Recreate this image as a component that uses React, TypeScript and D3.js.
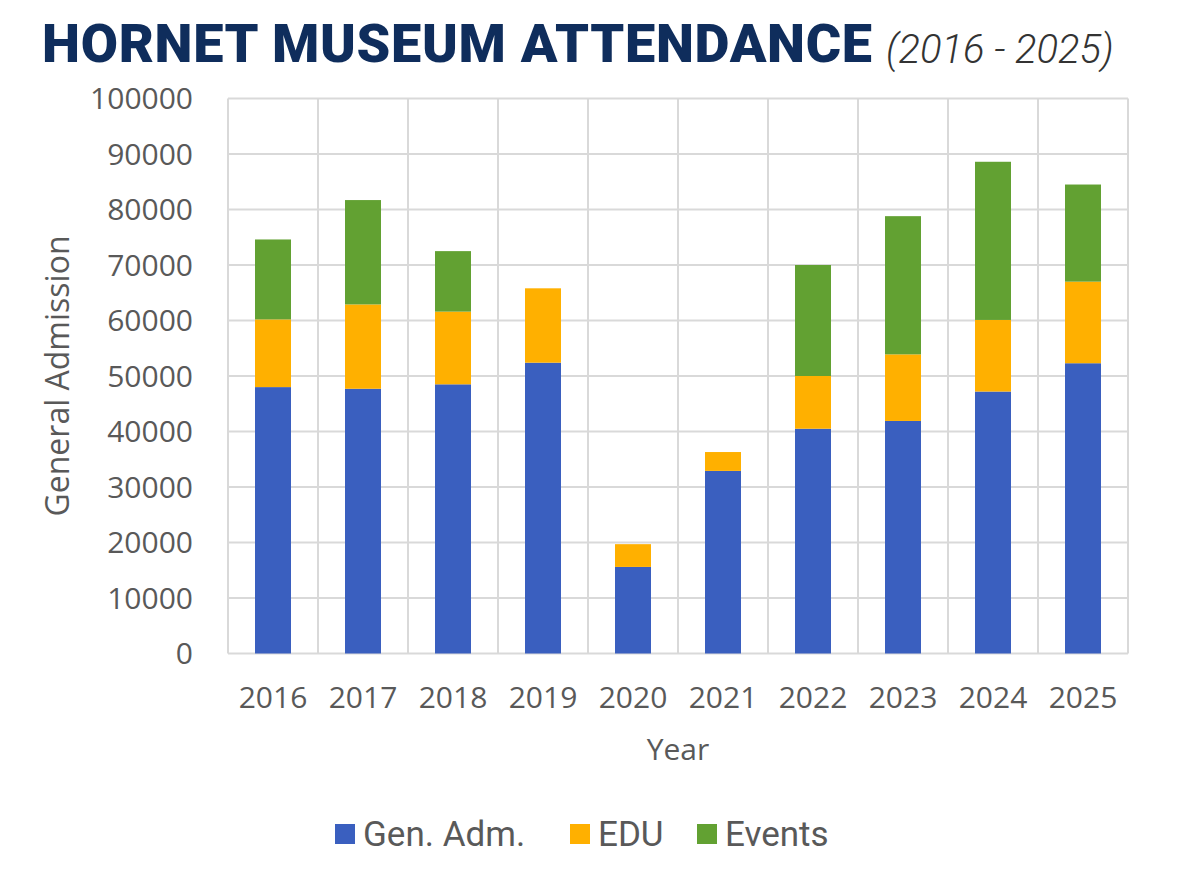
import React from "react";
import * as d3 from "d3";

const years = ["2016", "2017", "2018", "2019", "2020", "2021", "2022", "2023", "2024", "2025"];
const genAdm = [48000, 47700, 48500, 52400, 15600, 32900, 40500, 41900, 47200, 52300];
const edu = [12200, 15200, 13100, 13400, 4100, 3400, 9500, 12000, 12900, 14700];
const events = [14400, 18800, 10900, 0, 0, 0, 20000, 24900, 28500, 17500];
const yTicks = [0, 10000, 20000, 30000, 40000, 50000, 60000, 70000, 80000, 90000, 100000];

const seriesNames = ["Gen. Adm.", "EDU", "Events"];
const seriesColors = ["#3a5fbf", "#ffb000", "#62a132"];

const W = 1200;
const H = 875;
const margin = { top: 98.5, right: 72, bottom: 221.5, left: 228 };

const font = "'Open Sans', 'Noto Sans', sans-serif";

export default function App() {
  const rows = years.map((year, i) => ({
    year,
    gen: genAdm[i],
    edu: edu[i],
    events: events[i],
  }));

  const stack = d3.stack<any>().keys(["gen", "edu", "events"]);
  const layers = stack(rows);

  const x = d3
    .scaleBand()
    .domain(years)
    .range([margin.left, W - margin.right])
    .paddingInner(0.6)
    .paddingOuter(0.3);

  const cat = d3.scaleBand().domain(years).range([margin.left, W - margin.right]);

  const y = d3
    .scaleLinear()
    .domain([0, 100000])
    .range([H - margin.bottom, margin.top]);

  const legendItems = [
    { name: seriesNames[0], color: seriesColors[0], x: 335 },
    { name: seriesNames[1], color: seriesColors[1], x: 570 },
    { name: seriesNames[2], color: seriesColors[2], x: 697 },
  ];

  return (
    <svg
      width={W}
      height={H}
      style={{ position: "absolute", left: 0, top: 0, background: "#fff" }}
    >
      {/* title */}
      <text
        x={42}
        y={62}
        fontFamily="Roboto, sans-serif"
        fontWeight={900}
        fontSize={54}
        letterSpacing={0.7}
        fill="#0f2d5c"
      >
        HORNET MUSEUM ATTENDANCE
      </text>
      <text
        x={886}
        y={63}
        fontFamily="Roboto, sans-serif"
        fontStyle="italic"
        fontWeight={300}
        fontSize={40}
        fill="#333"
      >
        (2016 - 2025)
      </text>

      {/* gridlines */}
      <g stroke="#d9d9d9" strokeWidth={2}>
        {yTicks.map((t) => (
          <line key={t} x1={margin.left} x2={W - margin.right} y1={y(t)} y2={y(t)} />
        ))}
        {years.map((yr) => (
          <line key={yr} x1={cat(yr)} x2={cat(yr)} y1={y(100000)} y2={y(0)} />
        ))}
        <line
          x1={W - margin.right}
          x2={W - margin.right}
          y1={y(100000)}
          y2={y(0)}
        />
      </g>

      {/* bars */}
      {layers.map((layer, li) => (
        <g key={li} fill={seriesColors[li]}>
          {layer.map((d, i) =>
            d[1] - d[0] > 0 ? (
              <rect
                key={i}
                x={x(years[i])}
                width={x.bandwidth()}
                y={y(d[1])}
                height={y(d[0]) - y(d[1])}
              />
            ) : null
          )}
        </g>
      ))}

      {/* y tick labels */}
      <g fontFamily={font} fontSize={30} fill="#595959" textAnchor="end">
        {yTicks.map((t) => (
          <text key={t} x={margin.left - 35} y={y(t)} dy="0.36em">
            {t}
          </text>
        ))}
      </g>

      {/* x tick labels */}
      <g fontFamily={font} fontSize={30} fill="#595959" textAnchor="middle">
        {years.map((yr) => (
          <text key={yr} x={x(yr)! + x.bandwidth() / 2} y={708}>
            {yr}
          </text>
        ))}
      </g>

      {/* axis titles */}
      <text
        x={678}
        y={760}
        textAnchor="middle"
        fontFamily={font}
        fontSize={30}
        fill="#595959"
      >
        Year
      </text>
      <text
        transform={`translate(69, ${(y(0) + y(100000)) / 2}) rotate(-90)`}
        textAnchor="middle"
        fontFamily={font}
        fontSize={32}
        fill="#595959"
      >
        General Admission
      </text>

      {/* legend */}
      <g fontFamily="Roboto, sans-serif" fontSize={35} fill="#595959">
        {legendItems.map((it) => (
          <g key={it.name}>
            <rect x={it.x} y={824} width={20} height={20} fill={it.color} />
            <text x={it.x + 28} y={846}>
              {it.name}
            </text>
          </g>
        ))}
      </g>
    </svg>
  );
}
